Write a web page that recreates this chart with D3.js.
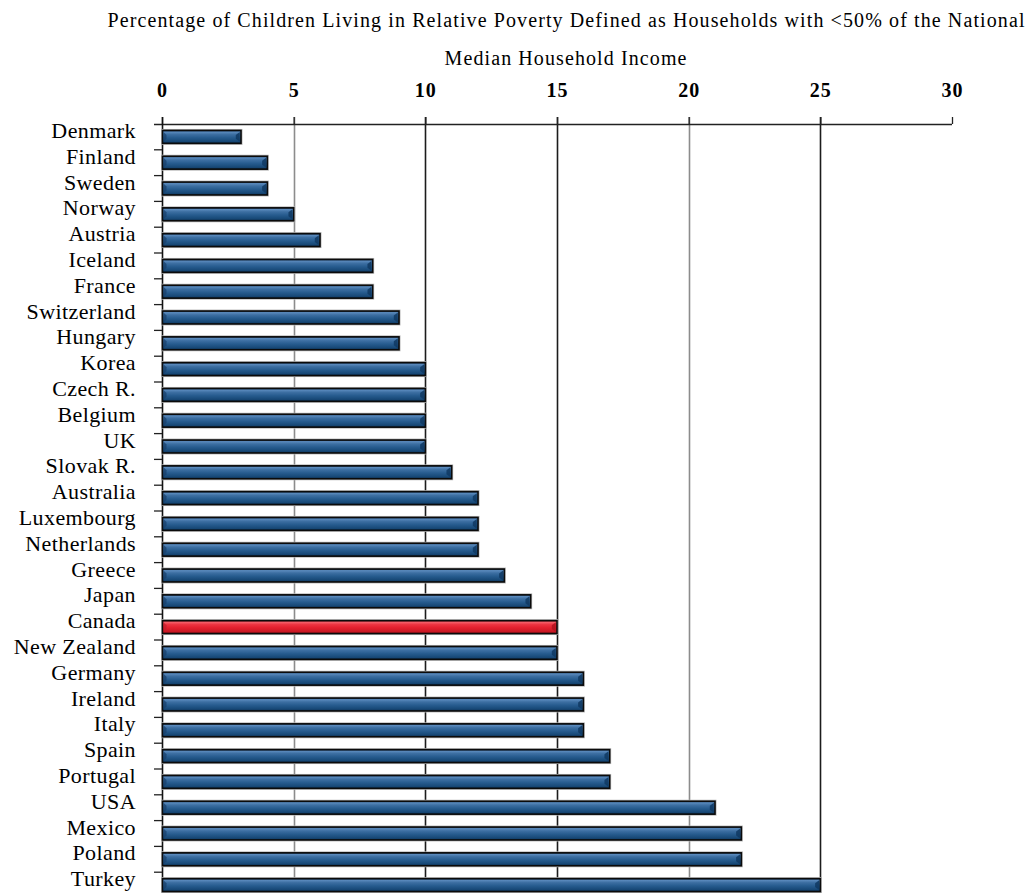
<!DOCTYPE html>
<html>
<head>
<meta charset="utf-8">
<script src="https://cdn.jsdelivr.net/npm/d3@7"></script>
<style>
  html, body { margin: 0; padding: 0; background: #fff; }
  svg { display: block; }
  text { font-family: "Liberation Serif", "DejaVu Serif", serif; fill: #000; }
</style>
</head>
<body>
<svg id="chart" width="1030" height="893"></svg>
<script>
// ---- data ----
const countries = ["Denmark","Finland","Sweden","Norway","Austria","Iceland","France","Switzerland","Hungary","Korea","Czech R.","Belgium","UK","Slovak R.","Australia","Luxembourg","Netherlands","Greece","Japan","Canada","New Zealand","Germany","Ireland","Italy","Spain","Portugal","USA","Mexico","Poland","Turkey"];
const values = [3,4,4,5,6,8,8,9,9,10,10,10,10,11,12,12,12,13,14,15,15,16,16,16,17,17,21,22,22,25];
const highlighted = ["Canada"];
const xTicks = [0,5,10,15,20,25,30];
const titleLines = ["Percentage of Children Living in Relative Poverty Defined as Households with <50% of the National", "Median Household Income"];

(function () {
// ---- layout ----
const svg = d3.select("#chart");
const mL = 162, mR = 952, mT = 124, mB = 898;

const x = d3.scaleLinear().domain([0, 30]).range([mL, mR]);
const y = d3.scaleBand().domain(countries).range([mT, mB]).paddingInner(0.5).paddingOuter(0.25);

// gradients
const defs = svg.append("defs");
function grad(id, stops) {
  const g = defs.append("linearGradient").attr("id", id).attr("x1", 0).attr("y1", 0).attr("x2", 0).attr("y2", 1);
  stops.forEach(s => g.append("stop").attr("offset", s[0]).attr("stop-color", s[1]));
}
grad("gBlue", [[0,"#1a3f68"],[0.12,"#5a8abd"],[0.3,"#3d6fa2"],[0.55,"#275c8f"],[0.85,"#174876"],[1,"#0e3256"]]);
grad("gRed",  [[0,"#a81a25"],[0.12,"#f4606a"],[0.3,"#ec3441"],[0.55,"#e2202e"],[0.85,"#c91824"],[1,"#961019"]]);

// title
const title = svg.append("g");
const titleTargets = [[107, 1025, 27], [444, 687, 65]];
titleLines.forEach((t, i) => {
  const [x0, x1, by] = titleTargets[i];
  const tx = title.append("text")
    .attr("x", (x0 + x1) / 2).attr("y", by)
    .attr("text-anchor", "middle")
    .style("font-size", "20px")
    .text(t);
  const w = tx.node().getComputedTextLength();
  const ls = ((x1 - x0) - w) / t.length;
  tx.style("letter-spacing", ls + "px").attr("x", (x0 + x1) / 2 + ls / 2);
});

// gridlines
const gridColor = {5: "#8c8c8c", 10: "#1c1c1c", 15: "#1c1c1c", 20: "#8c8c8c", 25: "#1c1c1c"};
svg.append("g").selectAll("line")
  .data(xTicks.filter(d => d > 0 && d < 30))
  .join("line")
  .attr("x1", d => Math.round(x(d)) + 0.5).attr("x2", d => Math.round(x(d)) + 0.5)
  .attr("y1", mT - 7).attr("y2", mB)
  .attr("stroke", d => gridColor[d]).attr("stroke-width", 1.6);

// top axis
const xAxis = d3.axisTop(x).tickValues(xTicks).tickSize(7).tickPadding(20).tickSizeOuter(0);
const gx = svg.append("g").attr("transform", `translate(0,${mT})`).call(xAxis);
gx.select(".domain").remove();
gx.selectAll(".tick line").attr("stroke", "#222").attr("stroke-width", 1.3);
gx.selectAll(".tick text")
  .style("font-family", '"Liberation Serif", serif')
  .style("font-size", "20px").style("font-weight", "bold")
  .style("letter-spacing", "1px").attr("fill", "#000");
svg.append("line").attr("x1", 154).attr("x2", mR).attr("y1", mT + 0.5).attr("y2", mT + 0.5)
  .attr("stroke", "#222").attr("stroke-width", 1.3);

// left axis
svg.append("line").attr("x1", mL + 0.5).attr("x2", mL + 0.5).attr("y1", mT - 7).attr("y2", mB)
  .attr("stroke", "#111").attr("stroke-width", 1.6);
const step = y.step();
svg.append("g").selectAll("line")
  .data(countries.slice(1))
  .join("line")
  .attr("x1", 154).attr("x2", mL)
  .attr("y1", d => y(d) - y.paddingInner() * step / 2)
  .attr("y2", d => y(d) - y.paddingInner() * step / 2)
  .attr("stroke", "#222").attr("stroke-width", 1.3);

// category labels
svg.append("g").selectAll("text")
  .data(countries)
  .join("text")
  .attr("x", 136)
  .attr("y", d => y(d) + y.bandwidth() / 2 + 1)
  .attr("text-anchor", "end")
  .style("font-size", "22px")
  .style("letter-spacing", "0.4px")
  .text(d => d);

// bars
const bars = svg.append("g");
const data = countries.map((c, i) => ({c, v: values[i], hi: highlighted.includes(c)}));
bars.selectAll("rect.sh").data(data).join("rect").attr("class", "sh")
  .attr("x", x(0) - 0.5).attr("y", d => y(d.c) - 1.5)
  .attr("width", d => x(d.v) - x(0) + 2).attr("height", y.bandwidth() + 3)
  .attr("fill", "#b5b5b5");
bars.selectAll("rect.bar").data(data).join("rect").attr("class", "bar")
  .attr("x", x(0) + 0.5).attr("y", d => y(d.c))
  .attr("width", d => x(d.v) - x(0) - 0.5).attr("height", y.bandwidth())
  .attr("fill", d => d.hi ? "url(#gRed)" : "url(#gBlue)")
  .attr("stroke", "#0b0b0b").attr("stroke-width", 1.6);
bars.selectAll("path.bev").data(data).join("path").attr("class", "bev")
  .attr("d", d => {
    const x1 = x(d.v) - 1.2, y0 = y(d.c) + 1.5, h = y.bandwidth() - 3;
    return `M${x1},${y0} L${x1 - 4},${y0 + 3} L${x1 - 4},${y0 + h - 3} L${x1},${y0 + h} Z`;
  })
  .attr("fill", d => d.hi ? "#b0121e" : "#0f3861").attr("opacity", 0.85);
bars.selectAll("path.bevl").data(data).join("path").attr("class", "bevl")
  .attr("d", d => {
    const x0 = x(0) + 1.5, y0 = y(d.c) + 1.5, h = y.bandwidth() - 3;
    return `M${x0},${y0} L${x0 + 3},${y0 + 3} L${x0 + 3},${y0 + h - 3} L${x0},${y0 + h} Z`;
  })
  .attr("fill", d => d.hi ? "#c0202c" : "#183f6a").attr("opacity", 0.7);
})();
</script>
</body>
</html>
